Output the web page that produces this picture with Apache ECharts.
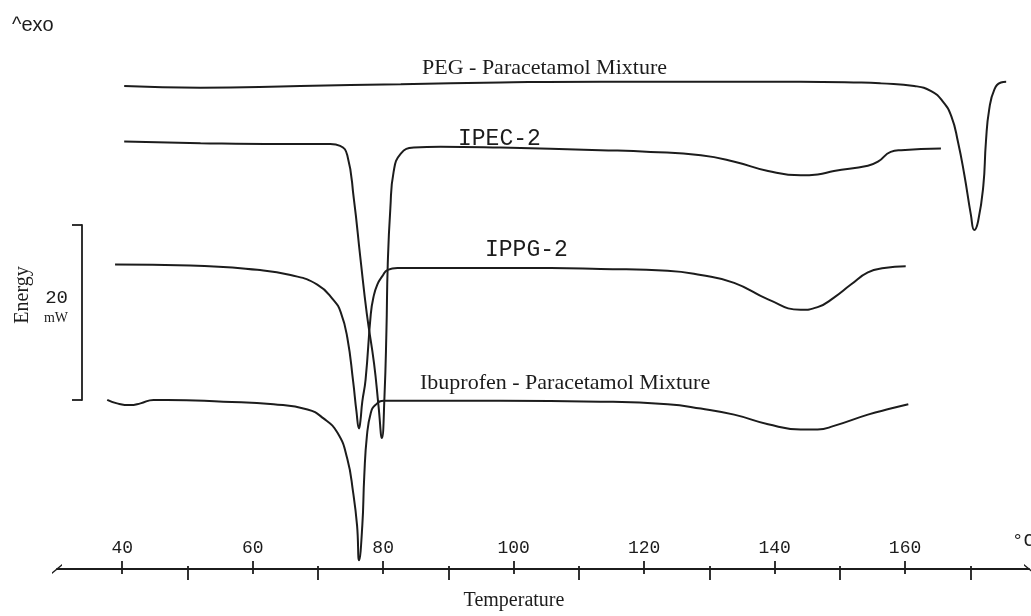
<!DOCTYPE html>
<html>
<head>
<meta charset="utf-8">
<script src="https://cdn.jsdelivr.net/npm/echarts@6/dist/echarts.min.js"></script>
<style>
  html, body { margin: 0; padding: 0; background: #fff; }
  #chart { width: 1031px; height: 616px; }
</style>
</head>
<body>
<div id="chart"></div>
<script>
// DSC curves, [temperature °C, heat flow mW] (curves offset vertically like the original)
const pegMixture = [
  [40.3, 55.7], [52.0, 55.5], [67.3, 55.7], [82.7, 55.9], [98.0, 56.1], [113.4, 56.2],
  [128.7, 56.2], [144.0, 56.2], [153.3, 56.1], [156.3, 56.0], [161.4, 55.7], [164.0, 55.1],
  [165.8, 53.9], [167.1, 52.2], [168.1, 49.3], [169.1, 45.4], [170.1, 40.8], [170.6, 39.1],
  [171.2, 40.1], [172.0, 44.2], [172.4, 49.3], [172.9, 53.0], [173.7, 55.3], [174.7, 56.1],
  [175.5, 56.2]
];
const ipec2 = [
  [40.3, 49.3], [52.0, 49.1], [64.2, 49.0], [71.9, 49.0], [73.4, 48.8], [74.5, 47.7],
  [75.5, 42.7], [76.5, 35.9], [77.5, 29.4], [78.6, 23.7], [79.3, 18.7], [79.8, 15.1],
  [80.2, 19.9], [80.5, 27.5], [80.7, 35.1], [81.1, 41.6], [81.6, 45.8], [82.7, 47.9],
  [84.7, 48.6], [88.8, 48.7], [98.0, 48.6], [113.3, 48.3], [121.0, 48.1], [128.7, 47.7],
  [133.7, 47.0], [139.0, 45.9], [144.0, 45.4], [146.6, 45.5], [149.1, 45.9], [154.3, 46.5],
  [155.9, 47.0], [157.8, 48.1], [159.4, 48.3], [165.5, 48.5]
];
const ippg2 = [
  [38.9, 35.1], [50.4, 35.0], [60.7, 34.5], [65.8, 33.9], [69.9, 32.8], [72.4, 31.0],
  [73.5, 29.6], [74.5, 26.7], [75.4, 21.6], [75.9, 18.2], [76.3, 16.2], [76.5, 17.0],
  [76.8, 19.3], [77.3, 21.8], [78.1, 29.4], [78.5, 31.3], [79.1, 32.8], [79.9, 33.8],
  [80.7, 34.5], [82.2, 34.7], [90.3, 34.7], [105.7, 34.7], [113.3, 34.6], [123.6, 34.4],
  [128.7, 33.9], [133.8, 33.0], [139.0, 31.1], [144.0, 29.9], [146.6, 30.2], [149.1, 31.3],
  [151.7, 32.8], [154.3, 34.2], [156.8, 34.7], [160.1, 34.9]
];
const ibuprofenMixture = [
  [37.7, 19.5], [39.2, 19.1], [41.2, 18.9], [42.8, 19.1], [44.8, 19.5], [46.9, 19.5],
  [55.5, 19.3], [63.2, 19.0], [68.4, 18.4], [70.8, 17.4], [73.0, 15.7], [74.5, 12.7],
  [75.4, 8.8], [76.0, 5.0], [76.3, 1.0], [76.8, 5.0], [77.1, 10.7], [77.5, 15.3],
  [78.1, 18.0], [78.8, 18.9], [80.1, 19.4], [84.2, 19.4], [98.0, 19.4], [113.3, 19.3],
  [123.6, 19.0], [128.7, 18.5], [133.8, 17.8], [139.0, 16.7], [144.0, 16.1], [146.6, 16.1],
  [149.1, 16.5], [154.3, 17.8], [157.8, 18.5], [160.5, 19.0]
];

const majorTicks = [40, 60, 80, 100, 120, 140, 160];
const minorTicks = [50, 70, 90, 110, 130, 150, 170];
const scaleBarTicks = [0, 20];

const ink = '#1c1c1c';
const serif = '"Liberation Serif", "Times New Roman", serif';
const mono = '"Liberation Mono", "Courier New", monospace';

const chart = echarts.init(document.getElementById('chart'));

function curve(name, data) {
  return {
    name: name,
    type: 'line',
    xAxisIndex: 0,
    yAxisIndex: 0,
    data: data,
    showSymbol: false,
    smooth: 0.5,
    lineStyle: { color: ink, width: 2 }
  };
}

const tempAxis = { type: 'value', gridIndex: 0, position: 'bottom', min: 30, max: 179 };

chart.setOption({
  backgroundColor: '#ffffff',
  animation: false,
  grid: [
    { left: 57, right: 2, top: 14, bottom: 42 },
    { left: 82, top: 225, width: 1, height: 175 }
  ],
  xAxis: [
    Object.assign({}, tempAxis, {
      name: 'Temperature',
      nameLocation: 'middle',
      nameGap: 22,
      nameTextStyle: { fontFamily: serif, fontSize: 20, color: ink, padding: [0, 58, 0, 0] },
      axisLine: {
        onZero: false,
        lineStyle: { color: ink, width: 1.8 },
        symbol: ['path://M0,0 L2,0 L12,12 L10,12 Z', 'path://M0,12 L2,12 L12,0 L10,0 Z'],
        symbolSize: [10, 10]
      },
      axisTick: { customValues: majorTicks, inside: true, length: 8, lineStyle: { color: ink, width: 1.8 } },
      axisLabel: { customValues: majorTicks, inside: true, margin: 12, fontFamily: mono, fontSize: 18, color: ink },
      splitLine: { show: false }
    }),
    Object.assign({}, tempAxis, {
      axisLine: { show: false },
      axisTick: { customValues: majorTicks, length: 5, lineStyle: { color: ink, width: 1.8 } },
      axisLabel: { show: false },
      splitLine: { show: false }
    }),
    Object.assign({}, tempAxis, {
      axisLine: { show: false },
      axisTick: { customValues: minorTicks, length: 11, lineStyle: { color: ink, width: 1.8 } },
      axisLabel: { show: false },
      splitLine: { show: false }
    }),
    Object.assign({}, tempAxis, {
      axisLine: { show: false },
      axisTick: { customValues: minorTicks, inside: true, length: 3, lineStyle: { color: ink, width: 1.8 } },
      axisLabel: { show: false },
      splitLine: { show: false }
    }),
    { type: 'value', gridIndex: 1, min: 0, max: 1, show: false }
  ],
  yAxis: [
    { type: 'value', gridIndex: 0, min: 0, max: 64, show: false },
    {
      type: 'value',
      gridIndex: 1,
      min: 0,
      max: 20,
      axisLine: { show: true, onZero: false, lineStyle: { color: ink, width: 1.8 } },
      axisTick: { customValues: scaleBarTicks, length: 10, lineStyle: { color: ink, width: 1.8 } },
      axisLabel: {
        customValues: [10.6],
        margin: 14,
        formatter: function () { return '{a|20}\n{b|mW}'; },
        rich: {
          a: { fontFamily: mono, fontSize: 19, color: ink, lineHeight: 22, align: 'right' },
          b: { fontFamily: serif, fontSize: 14, color: ink, lineHeight: 18, align: 'right' }
        }
      },
      splitLine: { show: false }
    }
  ],
  graphic: [
    { type: 'text', left: 12, top: 15, style: { text: '^exo', font: '20px "Liberation Sans", Arial, sans-serif', fill: ink } },
    { type: 'text', left: 422, top: 57, style: { text: 'PEG - Paracetamol Mixture', font: '22px ' + serif, fill: ink } },
    { type: 'text', left: 458, top: 127, style: { text: 'IPEC-2', font: '23px ' + mono, fill: ink } },
    { type: 'text', left: 485, top: 238, style: { text: 'IPPG-2', font: '23px ' + mono, fill: ink } },
    { type: 'text', left: 420, top: 372, style: { text: 'Ibuprofen - Paracetamol Mixture', font: '22px ' + serif, fill: ink } },
    { type: 'text', left: 1012, top: 531, style: { text: '°C', font: '19px ' + mono, fill: ink } },
    {
      type: 'text', x: 23, y: 295, rotation: Math.PI / 2,
      style: { text: 'Energy', font: '20px ' + serif, fill: ink, textAlign: 'center', textVerticalAlign: 'middle' }
    }
  ],
  series: [
    curve('PEG - Paracetamol Mixture', pegMixture),
    curve('IPEC-2', ipec2),
    curve('IPPG-2', ippg2),
    curve('Ibuprofen - Paracetamol Mixture', ibuprofenMixture)
  ]
});
</script>
</body>
</html>
